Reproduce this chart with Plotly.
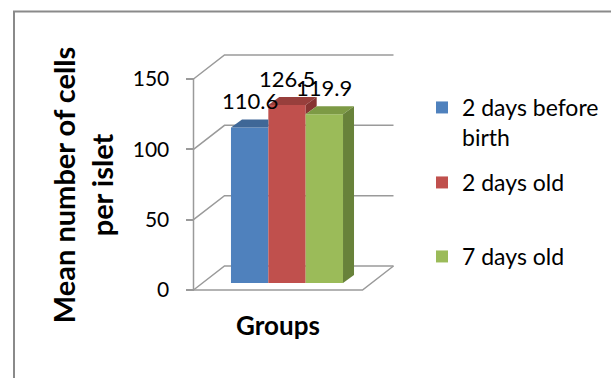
import plotly.graph_objects as go

# ---- data -------------------------------------------------------------
categories = ["Groups"]
series_names = ["2 days before<br>birth", "2 days old", "7 days old"]
series_values = [110.6, 126.5, 119.9]
y_ticks = [0, 50, 100, 150]

front_colors = ["#4F81BD", "#C0504D", "#9BBB59"]
top_colors = ["#3F6797", "#983F3C", "#7D9A45"]
side_colors = ["#355887", "#873532", "#68823A"]

# ---- geometry of the 3-D box (pixels) ---------------------------------
W, H = 611, 378
AXIS_X = 193.5          # front-left corner of the floor
FLOOR_Y = 290.0         # pixel of value 0 on the front wall plane
TOP_Y = 79.0            # pixel of the top tick on the front wall plane
SLOT_PX = 169.0         # width of the category slot
WALL_DX, WALL_DY = 31.0, 24.0      # depth of side wall / floor
BAR_DX, BAR_DY = 9.0, 7.0          # bars sit this far behind the front plane
DEPTH_DX, DEPTH_DY = 11.0, 8.0     # depth of each bar
BOTTOM_PX = 370.0
GAP = 0.337

K = (FLOOR_Y - TOP_Y) / max(y_ticks)          # px per value unit
bar_cx = AXIS_X + SLOT_PX / 2 + BAR_DX         # pixel of category centre (bar plane)
bar_y0 = FLOOR_Y - BAR_DY                      # pixel of value 0 (bar plane)

x_range = [(0 - bar_cx) / SLOT_PX, (W - bar_cx) / SLOT_PX]
y_range = [(bar_y0 - BOTTOM_PX) / K, bar_y0 / K]
y2_range = [(FLOOR_Y - BOTTOM_PX) / K, FLOOR_Y / K]

def x_front(u):
    """x coordinate (axis units) of a point u slots from the category centre, on the front plane."""
    return u - BAR_DX / SLOT_PX

wdx, wdy = WALL_DX / SLOT_PX, WALL_DY / K
ddx, ddy = DEPTH_DX / SLOT_PX, DEPTH_DY / K

x_idx = list(range(len(categories)))
n = len(series_values)
bw = (1 - GAP) / n

fig = go.Figure()

for i, (name, val) in enumerate(zip(series_names, series_values)):
    fig.add_trace(go.Bar(
        x=x_idx, y=[val], name=name,
        marker=dict(color=front_colors[i], line=dict(width=0)),
        legend="legend" if i == 0 else f"legend{i + 1}",
        hoverinfo="skip",
    ))

shapes = []
grid = dict(color="#9A9A9A", width=1.5)

# side wall diagonals and back wall gridlines
for t in y_ticks:
    xl = x_front(-0.5)
    shapes.append(dict(type="path", xref="x", yref="y2", layer="below",
                       path=f"M{xl},{t} L{xl + wdx},{t + wdy} L{x_front(0.5) + wdx},{t + wdy}",
                       line=grid))
# front edge of the floor and its right diagonal
shapes.append(dict(type="path", xref="x", yref="y2", layer="below",
                   path=f"M{x_front(-0.5)},0 L{x_front(0.5)},0 L{x_front(0.5) + wdx},{wdy}",
                   line=grid))
# vertical value axis line on the front plane
shapes.append(dict(type="line", xref="x", yref="y2", layer="below",
                   x0=x_front(-0.5), x1=x_front(-0.5), y0=0, y1=max(y_ticks), line=grid))

# top and side faces of the bars
for i, val in enumerate(series_values):
    c = x_idx[0] + (i - (n - 1) / 2) * bw
    xl, xr = c - bw / 2, c + bw / 2
    nxt = series_values[i + 1] if i + 1 < n else None
    if nxt is not None and nxt > val:
        top = f"M{xl},{val} L{xr},{val} L{xr},{val + ddy} L{xl + ddx},{val + ddy} Z"
    else:
        top = f"M{xl},{val} L{xr},{val} L{xr + ddx},{val + ddy} L{xl + ddx},{val + ddy} Z"
    shapes.append(dict(type="path", xref="x", yref="y", layer="above", path=top,
                       fillcolor=top_colors[i], line=dict(width=0)))
    low = 0 if nxt is None else nxt
    if nxt is None or nxt < val:
        side = f"M{xr},{low} L{xr},{val} L{xr + ddx},{val + ddy} L{xr + ddx},{low + ddy} Z"
        shapes.append(dict(type="path", xref="x", yref="y", layer="above", path=side,
                           fillcolor=side_colors[i], line=dict(width=0)))
    fig.add_annotation(x=c, y=val, xref="x", yref="y", text=f"{val:g}",
                       showarrow=False, yanchor="bottom", yshift=11,
                       font=dict(family="Lato", size=22, color="#000000"))

# chart border
shapes.append(dict(type="rect", xref="paper", yref="paper", layer="above",
                   x0=14 / W, x1=1.2, y0=-0.2, y1=1 - 11.5 / H,
                   line=dict(color="#8A8A8A", width=2), fillcolor="rgba(0,0,0,0)"))

legend_common = dict(
    xanchor="left", yanchor="top", x=422 / W, valign="top",
    font=dict(family="Lato", size=23, color="#000000"),
    bgcolor="rgba(0,0,0,0)", borderwidth=0, itemclick=False, itemdoubleclick=False,
)

fig.update_layout(
    width=W, height=H,
    margin=dict(l=0, r=0, t=0, b=0),
    paper_bgcolor="white", plot_bgcolor="rgba(0,0,0,0)",
    barmode="group", bargap=GAP, bargroupgap=0,
    showlegend=True,
    legend=dict(legend_common, y=1 - 86 / H),
    legend2=dict(legend_common, y=1 - 161 / H),
    legend3=dict(legend_common, y=1 - 235 / H),
    xaxis=dict(range=x_range, domain=[0, 1], anchor="free",
               position=1 - 308 / H,
               tickmode="array", tickvals=[x_front(0)], ticktext=categories,
               ticks="", showline=False, showgrid=False, zeroline=False,
               tickfont=dict(family="Lato", size=26, color="#000000", weight="bold")),
    yaxis=dict(range=y_range, domain=[1 - BOTTOM_PX / H, 1], visible=False,
               showgrid=False, zeroline=False),
    yaxis2=dict(range=y2_range, overlaying="y", anchor="free", position=AXIS_X / W,
                side="left", tickmode="array", tickvals=y_ticks,
                ticks="outside", ticklen=8, tickcolor="#9A9A9A", tickwidth=1.5,
                ticklabelstandoff=12,
                showline=False, showgrid=False, zeroline=False,
                tickfont=dict(family="Lato", size=21, color="#000000"),
                title=dict(text="Mean number of cells<br>per islet", standoff=9,
                           font=dict(family="Lato", size=29, color="#000000", weight="bold"))),
    shapes=shapes,
)

fig.write_html("out.html")
